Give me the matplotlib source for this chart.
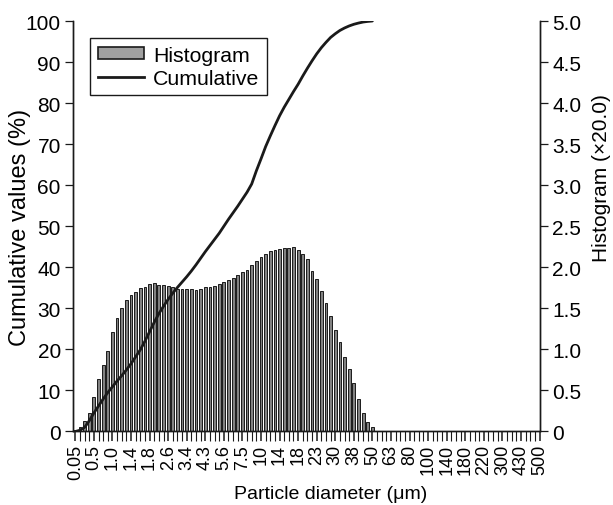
import numpy as np
import matplotlib
matplotlib.use('Agg')
import matplotlib.pyplot as plt
from matplotlib.patches import Patch
from matplotlib.lines import Line2D

plt.rcParams['font.family'] = ['Liberation Sans', 'DejaVu Sans']

# x-axis labels (every 4th size class edge)
size_labels = ['0.05', '0.5', '1.0', '1.4', '1.8', '2.6', '3.4', '4.3', '5.6', '7.5',
               '10', '14', '18', '23', '30', '38', '50', '63', '80', '100',
               '140', '180', '220', '300', '430', '500']

# histogram values (right axis units), one per size class
hist = [0.015, 0.06, 0.125, 0.23, 0.42, 0.635, 0.805, 0.985, 1.21, 1.38,
        1.505, 1.60, 1.665, 1.705, 1.745, 1.755, 1.795, 1.805, 1.79, 1.78,
        1.77, 1.755, 1.74, 1.735, 1.73, 1.73, 1.725, 1.74, 1.755, 1.765,
        1.775, 1.795, 1.82, 1.84, 1.875, 1.905, 1.945, 1.97, 2.025, 2.08,
        2.12, 2.16, 2.20, 2.21, 2.225, 2.235, 2.235, 2.245, 2.21, 2.165,
        2.105, 1.96, 1.855, 1.715, 1.56, 1.405, 1.235, 1.095, 0.91, 0.76,
        0.59, 0.40, 0.23, 0.12, 0.055] + [0.0] * 36

# cumulative values (%), one per size class until 100 is reached
cumulative = [0, 0.3, 1.0, 2.6, 4.5, 6.2, 7.9, 9.5, 10.9, 12.3,
              13.6, 15.0, 16.5, 18.2, 19.9, 22.0, 24.3, 26.6, 28.7, 30.5,
              32.2, 33.7, 35.1, 36.4, 37.7, 39.1, 40.6, 42.2, 43.8, 45.3,
              46.8, 48.3, 50.0, 51.7, 53.3, 54.9, 56.6, 58.3, 60.3, 63.5,
              66.4, 69.4, 72.0, 74.5, 76.9, 79.0, 80.9, 82.8, 84.6, 86.6,
              88.5, 90.3, 92.0, 93.5, 94.8, 96.0, 96.9, 97.7, 98.3, 98.8,
              99.2, 99.5, 99.75, 99.9, 100.0]

left_ticks = [0, 10, 20, 30, 40, 50, 60, 70, 80, 90, 100]
right_ticks = [0, 0.5, 1.0, 1.5, 2.0, 2.5, 3.0, 3.5, 4.0, 4.5, 5.0]
right_labels = ['0', '0.5', '1.0', '1.5', '2.0', '2.5', '3.0', '3.5', '4.0', '4.5', '5.0']

FS = 14
dark = '#1a1a1a'

fig = plt.figure(figsize=(6.13, 5.06), dpi=100)
ax1 = fig.add_axes([0.1196, 0.1453, 0.7605, 0.8112])
ax2 = ax1.twinx()

pos = np.arange(len(hist))
ax2.bar(pos, hist, width=0.6, color='#828282', edgecolor=dark, linewidth=0.7)
ax1.plot(np.arange(len(cumulative)), cumulative, color=dark, lw=2.0,
         solid_capstyle='round')

ax1.set_zorder(ax2.get_zorder() + 1)
ax1.patch.set_visible(False)

ax1.set_xlim(-0.43, len(hist) - 1)
ax1.set_ylim(0, 100)
ax2.set_ylim(0, 5)

ax1.set_xticks(np.arange(0, len(hist), 4))
ax1.set_xticklabels(size_labels, rotation=90, fontsize=13)
ax1.set_xticks(np.arange(len(hist)), minor=True)
ax1.tick_params(axis='x', which='major', direction='out', length=7, width=1.1, color=dark, pad=2)
ax1.tick_params(axis='x', which='minor', direction='out', length=7, width=0.8, color=dark)

ax1.set_yticks(left_ticks)
ax1.set_yticklabels([str(t) for t in left_ticks], fontsize=15)
ax1.tick_params(axis='y', direction='out', length=6, width=0.9, color=dark, pad=3)

ax2.set_yticks(right_ticks)
ax2.set_yticklabels(right_labels, fontsize=15)
ax2.tick_params(axis='y', direction='out', length=6, width=0.9, color=dark, pad=3)

for ax in (ax1, ax2):
    ax.spines['top'].set_visible(False)
    for s in ('left', 'right', 'bottom'):
        ax.spines[s].set_color(dark)
        ax.spines[s].set_linewidth(1.0)

ax1.set_xlabel('Particle diameter (μm)', fontsize=FS)
ax1.xaxis.set_label_coords(0.551, -0.152)
ax1.xaxis.label.set_va('center')
ax1.set_ylabel('Cumulative values (%)', fontsize=17)
ax1.yaxis.label.set_va('center')
ax1.yaxis.set_label_coords(-0.114, 0.5)
ax2.set_ylabel('Histogram (×20.0)', fontsize=15)
ax2.yaxis.set_label_coords(1.113, 0.62)

handles = [Patch(facecolor='#a0a0a0', edgecolor=dark, linewidth=1.2),
           Line2D([0], [0], color=dark, lw=2)]
leg = ax1.legend(handles, ['Histogram', 'Cumulative'], loc='upper left',
                 bbox_to_anchor=(0.036, 0.958), borderaxespad=0, fontsize=15.3,
                 frameon=True, fancybox=False, framealpha=1, edgecolor=dark,
                 handlelength=2.2, handleheight=0.5, handletextpad=0.4,
                 labelspacing=0.2, borderpad=0.35)
leg.get_frame().set_linewidth(1.0)

fig.savefig('out.png', dpi=100)
